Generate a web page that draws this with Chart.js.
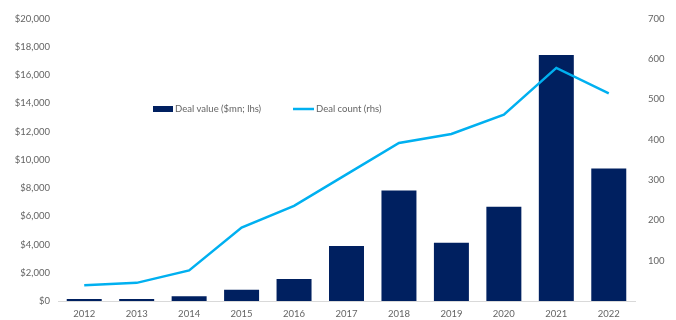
<!DOCTYPE html>
<html lang="en">

<head>
  <meta charset="UTF-8" />
  <title>Deal value and count</title>
  <script src="https://cdn.jsdelivr.net/npm/chart.js"></script>
  <style>
    html, body { margin: 0; padding: 0; background: #fff; }
    #wrap { width: 676px; height: 320px; position: relative; }
  </style>
</head>

<body>
  <div id="wrap">
    <canvas id="dealChart"></canvas>
  </div>

  <script>
    const years = ['2012', '2013', '2014', '2015', '2016', '2017', '2018', '2019', '2020', '2021', '2022'];
    const dealValue = [150, 150, 330, 790, 1550, 3890, 7830, 4120, 6670, 17430, 9380]; // $mn, left axis
    const dealCount = [39, 45, 76, 182, 236, 314, 392, 414, 462, 578, 515];            // right axis
    const valueLabel = 'Deal value ($mn; lhs)';
    const countLabel = 'Deal count (rhs)';

    const navy = '#002060';
    const sky = '#00b0f0';
    const grey = '#646464';
    const font = { family: 'Lato', size: 9.5 };

    // legend sits inside the plot, so draw it ourselves
    const innerLegend = {
      id: 'innerLegend',
      afterDraw(chart) {
        const ctx = chart.ctx;
        const y = 109;
        ctx.save();
        ctx.font = '9.5px Lato';
        ctx.textBaseline = 'middle';

        ctx.fillStyle = navy;
        ctx.fillRect(153, y - 3, 20, 6);
        ctx.fillStyle = grey;
        ctx.fillText(valueLabel, 175, y);

        ctx.strokeStyle = sky;
        ctx.lineWidth = 2.5;
        ctx.beginPath();
        ctx.moveTo(293, y);
        ctx.lineTo(314, y);
        ctx.stroke();
        ctx.fillText(countLabel, 316, y);
        ctx.restore();
      }
    };

    new Chart(document.getElementById('dealChart'), {
      data: {
        labels: years,
        datasets: [
          {
            type: 'line',
            label: countLabel,
            data: dealCount,
            yAxisID: 'yRight',
            borderColor: sky,
            borderWidth: 2.5,
            pointRadius: 0,
            tension: 0,
            order: 0,
          },
          {
            type: 'bar',
            label: valueLabel,
            data: dealValue,
            yAxisID: 'yLeft',
            backgroundColor: navy,
            categoryPercentage: 1,
            barPercentage: 0.667,
            order: 1,
          },
        ],
      },
      options: {
        responsive: true,
        maintainAspectRatio: false,
        animation: false,
        layout: { padding: { top: 13, left: 0, right: 0, bottom: 0 } },
        plugins: {
          legend: { display: false },
          tooltip: { enabled: false },
        },
        scales: {
          x: {
            grid: { display: false, drawTicks: false },
            border: { display: true, color: '#d9d9d9', width: 1 },
            ticks: { color: grey, font: font, padding: 7, maxRotation: 0 },
            afterFit(scale) { scale.height = 19; },
          },
          yLeft: {
            position: 'left',
            min: 0,
            max: 20000,
            grid: { display: false, drawTicks: false },
            border: { display: false },
            ticks: {
              stepSize: 2000,
              color: grey,
              font: font,
              padding: 8,
              callback: v => '$' + v.toLocaleString('en-US'),
            },
            afterFit(scale) { scale.width = 58; },
          },
          yRight: {
            position: 'right',
            min: 0,
            max: 700,
            grid: { display: false, drawTicks: false },
            border: { display: false },
            ticks: {
              stepSize: 100,
              color: grey,
              font: font,
              padding: 13,
              callback: v => (v === 0 ? '' : v),
            },
            afterFit(scale) { scale.width = 41; },
          },
        },
      },
      plugins: [innerLegend],
    });
  </script>
</body>

</html>
